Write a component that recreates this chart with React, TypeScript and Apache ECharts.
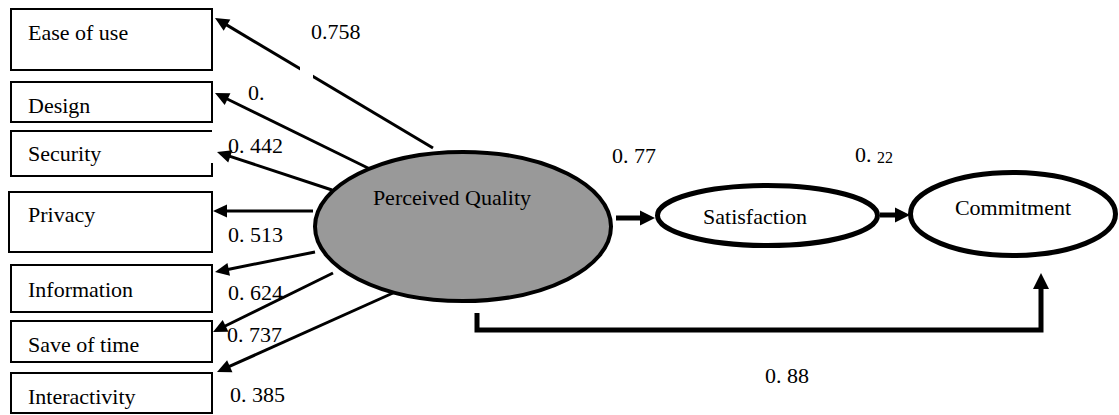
import React, { useEffect, useRef } from "react";
import * as echarts from "echarts";

// ---- data ----
const indicators = ["Ease of use", "Design", "Security", "Privacy", "Information", "Save of time", "Interactivity"];
const loadings = ["0.758", "0.", "0. 442", "0. 513", "0. 624", "0. 737", "0. 385"];
const constructs = ["Perceived Quality", "Satisfaction", "Commitment"];
const pathCoefs = ["0. 77", "0. 22", "0. 88"];

// ---- layout (positions, not data) ----
const boxLayout = [
  { x: 11, y: 9, w: 201, h: 61, ty: 32 },
  { x: 11, y: 82, w: 201, h: 40, ty: 105 },
  { x: 11, y: 131, w: 201, h: 45, ty: 153 },
  { x: 9, y: 192, w: 203, h: 60, ty: 214 },
  { x: 11, y: 265, w: 201, h: 47, ty: 289 },
  { x: 11, y: 321, w: 201, h: 41, ty: 344 },
  { x: 11, y: 373, w: 201, h: 40, ty: 396 },
];
const loadingPos = [
  [311, 31], [248, 92], [228, 145], [228, 234], [228, 292], [227, 334], [230, 394],
];
const indicatorArrows = [
  [433, 148, 215, 18],
  [372, 170, 215, 93],
  [332, 190, 217, 152],
  [313, 211, 213, 211],
  [315, 252, 215, 272],
  [333, 273, 213, 332],
  [393, 293, 217, 372],
];
const ellipseLayout = [
  { cx: 463, cy: 226.5, rx: 148, ry: 74.5, fill: "#999999", lw: 4, tx: 452, ty: 197 },
  { cx: 767.5, cy: 215.5, rx: 110, ry: 30, fill: "#ffffff", lw: 5, tx: 755, ty: 216 },
  { cx: 1013, cy: 214, rx: 102.5, ry: 41.5, fill: "#ffffff", lw: 5, tx: 1013, ty: 207 },
];

const FONT = "Liberation Serif";

function arrow(x1: number, y1: number, x2: number, y2: number, lw: number, hl: number, hw: number) {
  const dx = x2 - x1;
  const dy = y2 - y1;
  const len = Math.sqrt(dx * dx + dy * dy);
  const ux = dx / len;
  const uy = dy / len;
  const bx = x2 - ux * hl;
  const by = y2 - uy * hl;
  const px = -uy;
  const py = ux;
  return [
    {
      type: "line",
      shape: { x1, y1, x2: bx + ux * 1, y2: by + uy * 1 },
      style: { stroke: "#000", lineWidth: lw },
    },
    {
      type: "polygon",
      shape: {
        points: [
          [x2, y2],
          [bx + px * hw / 2, by + py * hw / 2],
          [bx - px * hw / 2, by - py * hw / 2],
        ],
      },
      style: { fill: "#000" },
    },
  ];
}

function text(t: string, x: number, y: number, align = "left", size = 22) {
  return {
    type: "text",
    style: {
      text: t,
      x,
      y,
      fill: "#000",
      fontSize: size,
      fontFamily: FONT,
      align,
      verticalAlign: "middle",
    },
  };
}

export default function App() {
  const ref = useRef<HTMLDivElement>(null);

  useEffect(() => {
    if (!ref.current) return;
    const chart = echarts.init(ref.current, null, { renderer: "svg" });
    const els: any[] = [];

    // boxes
    indicators.forEach((name, i) => {
      const b = boxLayout[i];
      if (i === 2) {
        els.push({
          type: "polyline",
          shape: {
            points: [
              [b.x + b.w, b.y],
              [b.x, b.y],
              [b.x, b.y + b.h],
              [b.x + b.w, b.y + b.h],
              [b.x + b.w, b.y + b.h - 13],
            ],
          },
          style: { stroke: "#000", lineWidth: 2, fill: null },
        });
      } else {
        els.push({
          type: "rect",
          shape: { x: b.x, y: b.y, width: b.w, height: b.h },
          style: { fill: "#fff", stroke: "#000", lineWidth: 2 },
        });
      }
      els.push(text(name, 28, b.ty));
    });

    // indicator arrows
    indicatorArrows.forEach((a) => {
      els.push(...arrow(a[0], a[1], a[2], a[3], 3, 14, 13));
    });
    // gap in first arrow
    els.push({
      type: "rect",
      shape: { x: 300, y: 55, width: 13, height: 26 },
      style: { fill: "#fff" },
    });

    // loadings
    loadings.forEach((l, i) => {
      els.push(text(l, loadingPos[i][0], loadingPos[i][1]));
    });

    // structural arrows
    els.push(...arrow(616, 218, 655, 218, 5, 15, 15));
    els.push(...arrow(880, 215, 910, 215, 5, 15, 15));
    els.push({
      type: "polyline",
      shape: { points: [[477, 313], [477, 330], [1041, 330], [1041, 288]] },
      style: { stroke: "#000", lineWidth: 5, fill: null },
    });
    els.push({
      type: "polygon",
      shape: { points: [[1041, 273], [1049, 289], [1033, 289]] },
      style: { fill: "#000" },
    });

    // ellipses
    constructs.forEach((c, i) => {
      const e = ellipseLayout[i];
      els.push({
        type: "ellipse",
        shape: { cx: e.cx, cy: e.cy, rx: e.rx, ry: e.ry },
        style: { fill: e.fill, stroke: "#000", lineWidth: e.lw },
      });
      els.push(text(c, e.tx, e.ty, "center"));
    });

    // path coefficients
    els.push(text(pathCoefs[0], 612, 155));
    const parts = pathCoefs[1].split(" ");
    els.push({
      type: "text",
      style: {
        text: `{a|${parts[0]} }{b|${parts[1]}}`,
        x: 855,
        y: 154,
        fill: "#000",
        fontSize: 22,
        fontFamily: FONT,
        align: "left",
        verticalAlign: "middle",
        rich: {
          a: { fontSize: 22, fontFamily: FONT, fill: "#000", verticalAlign: "bottom" },
          b: { fontSize: 16, fontFamily: FONT, fill: "#000", verticalAlign: "bottom" },
        },
      },
    });
    els.push(text(pathCoefs[2], 765, 375));

    chart.setOption({
      animation: false,
      graphic: { elements: els },
    });
    return () => chart.dispose();
  }, []);

  return (
    <div
      ref={ref}
      style={{ position: "absolute", left: 0, top: 0, width: 1119, height: 415, background: "#fff" }}
    />
  );
}
